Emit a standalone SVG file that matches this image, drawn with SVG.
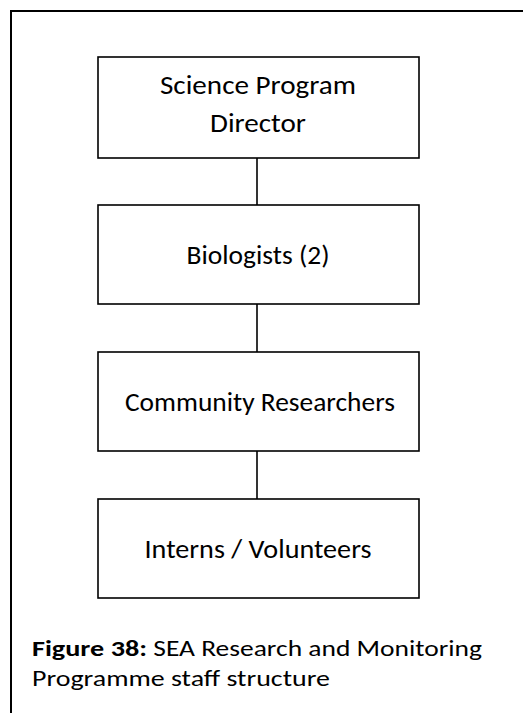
<svg xmlns="http://www.w3.org/2000/svg" width="523" height="713" viewBox="0 0 523 713">
<style>
.box{fill:#fff;stroke:#000;stroke-width:1.6}
.lbl{font-family:Carlito,Calibri,Lato,"Open Sans",sans-serif;font-size:26px;fill:#000;text-anchor:middle}
.cap{font-family:Carlito,Calibri,Lato,"Open Sans",sans-serif;font-size:23px;fill:#000}
.conn line{stroke:#000;stroke-width:1.6}
</style>
<rect x="0" y="0" width="523" height="713" fill="#fff"/>
<g id="frame" fill="none" stroke="#000" stroke-width="2">
<path d="M11,713 V11 H523"/>
</g>
<g class="conn" id="connectors">
<line x1="257" y1="158" x2="257" y2="205"/>
<line x1="257" y1="304" x2="257" y2="352"/>
<line x1="257" y1="451" x2="257" y2="499"/>
</g>
<g id="director">
<rect class="box" x="98" y="57" width="321" height="101"/>
<text class="lbl" x="258" y="94" textLength="196" lengthAdjust="spacingAndGlyphs">Science Program</text>
<text class="lbl" x="258" y="131.5" textLength="96" lengthAdjust="spacingAndGlyphs">Director</text>
</g>
<g id="biologists">
<rect class="box" x="98" y="205" width="321" height="99"/>
<text class="lbl" x="258" y="264" textLength="143" lengthAdjust="spacingAndGlyphs">Biologists (2)</text>
</g>
<g id="community">
<rect class="box" x="98" y="352" width="321" height="99"/>
<text class="lbl" x="260" y="411" textLength="270" lengthAdjust="spacingAndGlyphs">Community Researchers</text>
</g>
<g id="interns">
<rect class="box" x="98" y="499" width="321" height="99"/>
<text class="lbl" x="258" y="558" textLength="227" lengthAdjust="spacingAndGlyphs">Interns / Volunteers</text>
</g>
<g id="caption">
<text class="cap" y="656"><tspan x="32" font-weight="bold" textLength="115" lengthAdjust="spacingAndGlyphs">Figure 38:</tspan> <tspan x="153.3" textLength="328.7" lengthAdjust="spacingAndGlyphs">SEA Research and Monitoring</tspan></text>
<text class="cap" x="32" y="686" textLength="298" lengthAdjust="spacingAndGlyphs">Programme staff structure</text>
</g>
</svg>
